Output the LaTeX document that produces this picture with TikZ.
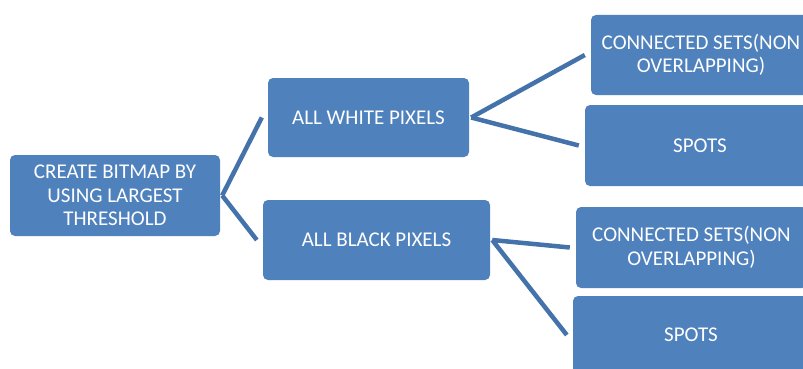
\documentclass[tikz,border=0pt]{standalone}
\usepackage{fontspec}
\setmainfont{Carlito}
\usetikzlibrary{positioning,calc}
\definecolor{boxblue}{RGB}{79,129,189}
\definecolor{lineblue}{RGB}{68,114,170}

\begin{document}
\begin{tikzpicture}[x=1pt,y=-1pt,
  box/.style={fill=boxblue,rounded corners=5pt,text=white,align=center,
    font=\fontsize{21}{23.5}\selectfont,inner sep=0pt},
  link/.style={draw=lineblue,line width=4.5pt}]
  \useasboundingbox (0,0) rectangle (803,369);
  \clip (0,0) rectangle (803,369);
  % first level
  \node[box,minimum width=210pt,minimum height=81pt] (root) at (115,195.5) {CREATE BITMAP BY\\USING LARGEST\\THRESHOLD};
  \node[box,minimum width=201pt,minimum height=79pt] (white) at (368.5,117.5) {ALL WHITE PIXELS};
  \node[box,minimum width=227pt,minimum height=80pt] (black) at (376.5,240) {ALL BLACK PIXELS};
  % leaves
  \node[box,minimum width=220pt,minimum height=80pt] (wsets) at (701,55) {CONNECTED SETS(NON\\OVERLAPPING)};
  \node[box,minimum width=230pt,minimum height=81pt] (wspots) at (700,145.5) {SPOTS};
  \node[box,minimum width=231pt,minimum height=81pt] (bsets) at (691.5,247.5) {CONNECTED SETS(NON\\OVERLAPPING)};
  \node[box,minimum width=236pt,minimum height=78pt] (bspots) at (691,335) {SPOTS};
  % connectors
  \foreach \a/\b in {root/white,root/black,white/wsets,white/wspots,black/bsets,black/bspots}
    \draw[link] ([xshift=2pt]\a.east) -- ([xshift=-6pt]\b.west);
\end{tikzpicture}
\end{document}
